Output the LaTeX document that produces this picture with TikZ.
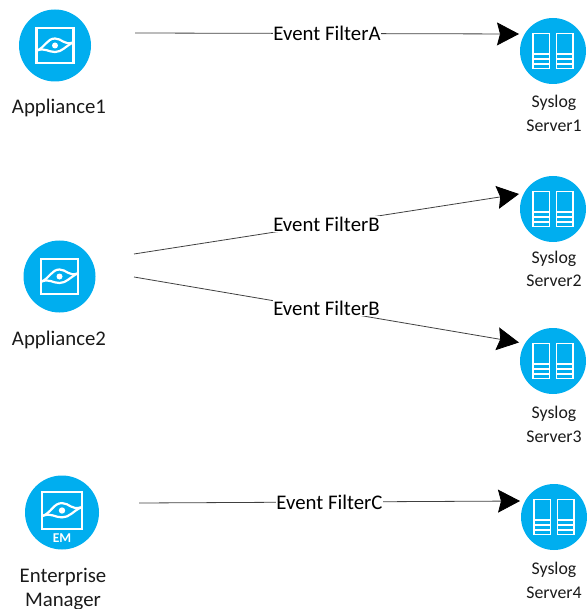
\documentclass[tikz,border=0pt]{standalone}
\usepackage{fontspec}
\setmainfont{Carlito}
\usetikzlibrary{arrows.meta}
\definecolor{iconblue}{HTML}{00AEEF}
\definecolor{labelgrey}{HTML}{1A1A1A}
\tikzset{
  x=1pt,y=-1pt,
  iconbg/.style={circle,fill=iconblue,draw=none,inner sep=0pt},
  lbl/.style={font=\fontsize{20.8}{24}\selectfont,text=labelgrey,align=center,inner sep=0pt},
  smalllbl/.style={font=\fontsize{17.8}{23.5}\selectfont,text=labelgrey,align=center,inner sep=0pt},
  filterlbl/.style={font=\fontsize{20.8}{24}\selectfont,text=black,fill=white,inner sep=0.5pt},
  link/.style={draw=black!75,line width=0.8pt,-{Stealth[length=22pt,width=23pt,inset=3pt,black]}},
  iconline/.style={draw=white,line width=2.2pt},
  pics/eye/.style={code={
    \draw[iconline] (-18.5,-17.5) rectangle (18.5,17.5);
    \draw[iconline] (-18,5) .. controls (-10,2) and (-8,-7) .. (0,-7) .. controls (7,-7) and (9,0) .. (18,-3);
    \draw[iconline] (-18,5) .. controls (-10,2) and (-7,6.5) .. (0,6.5) .. controls (7,6.5) and (10,1) .. (18,-3);
    \fill[white] (0,0) circle (3);
  }},
  pics/server/.style={code={
    \draw[iconline,line width=1.9pt] (-20,-17.5) rectangle (-3.5,17.5);
    \draw[iconline,line width=1.9pt] (3.5,-17.5) rectangle (20,17.5);
    \foreach \yy in {3,8,13}{
      \draw[iconline,line width=1.9pt] (-20,\yy) -- (-3.5,\yy);
      \draw[iconline,line width=1.9pt] (3.5,\yy) -- (20,\yy);
    }
  }}
}
\begin{document}
\begin{tikzpicture}
\useasboundingbox (0,0) rectangle (586,609);
% Appliances
\node[iconbg,minimum size=72] (app1) at (55,45.5) {};
\pic at (app1) {eye};
\node[lbl] (app1t) at (59,107.5) {Appliance1};
\node[iconbg,minimum size=72] (app2) at (59.5,276.5) {};
\pic at (app2) {eye};
\node[lbl] (app2t) at (59,339.5) {Appliance2};
\node[iconbg,minimum size=74] (em) at (62,512.5) {};
\pic[scale=1.06] at ([yshift=2pt]em.center) {eye};
\node[font=\bfseries\fontsize{13.5}{14}\selectfont,text=white,inner sep=0pt] (emt) at (62,538.5) {EM};
\node[lbl,text width=120] (emtxt) at (63,589.5) {Enterprise\\Manager};
% Servers
\node[iconbg,minimum size=66] (s1) at (553,51) {};
\pic at (s1) {server};
\node[smalllbl] (s1t) at (554,113.5) {Syslog\\Server1};
\node[iconbg,minimum size=66] (s2) at (553,209) {};
\pic at (s2) {server};
\node[smalllbl] (s2t) at (554,269) {Syslog\\Server2};
\node[iconbg,minimum size=66] (s3) at (553,361) {};
\pic at (s3) {server};
\node[smalllbl] (s3t) at (554,424.5) {Syslog\\Server3};
\node[iconbg,minimum size=66] (s4) at (554,517) {};
\pic at (s4) {server};
\node[smalllbl] (s4t) at (554,580.5) {Syslog\\Server4};
% Connector ends
\coordinate (a1o) at (135,33);
\coordinate (s1i) at (519,34);
\coordinate (a2oa) at (134,254);
\coordinate (s2i) at (519,194);
\coordinate (a2ob) at (134,277);
\coordinate (s3i) at (519,342.5);
\coordinate (emo) at (139,503);
\coordinate (s4i) at (520,501);
\draw[link] (a1o) -- node[filterlbl,pos=0.5] (fa) {Event FilterA} (s1i);
\draw[link] (a2oa) -- node[filterlbl,pos=0.5] (fb1) {Event FilterB} (s2i);
\draw[link] (a2ob) -- node[filterlbl,pos=0.5,yshift=1.5pt] (fb2) {Event FilterB} (s3i);
\draw[link] (emo) -- node[filterlbl,pos=0.5] (fc) {Event FilterC} (s4i);
\end{tikzpicture}
\end{document}
